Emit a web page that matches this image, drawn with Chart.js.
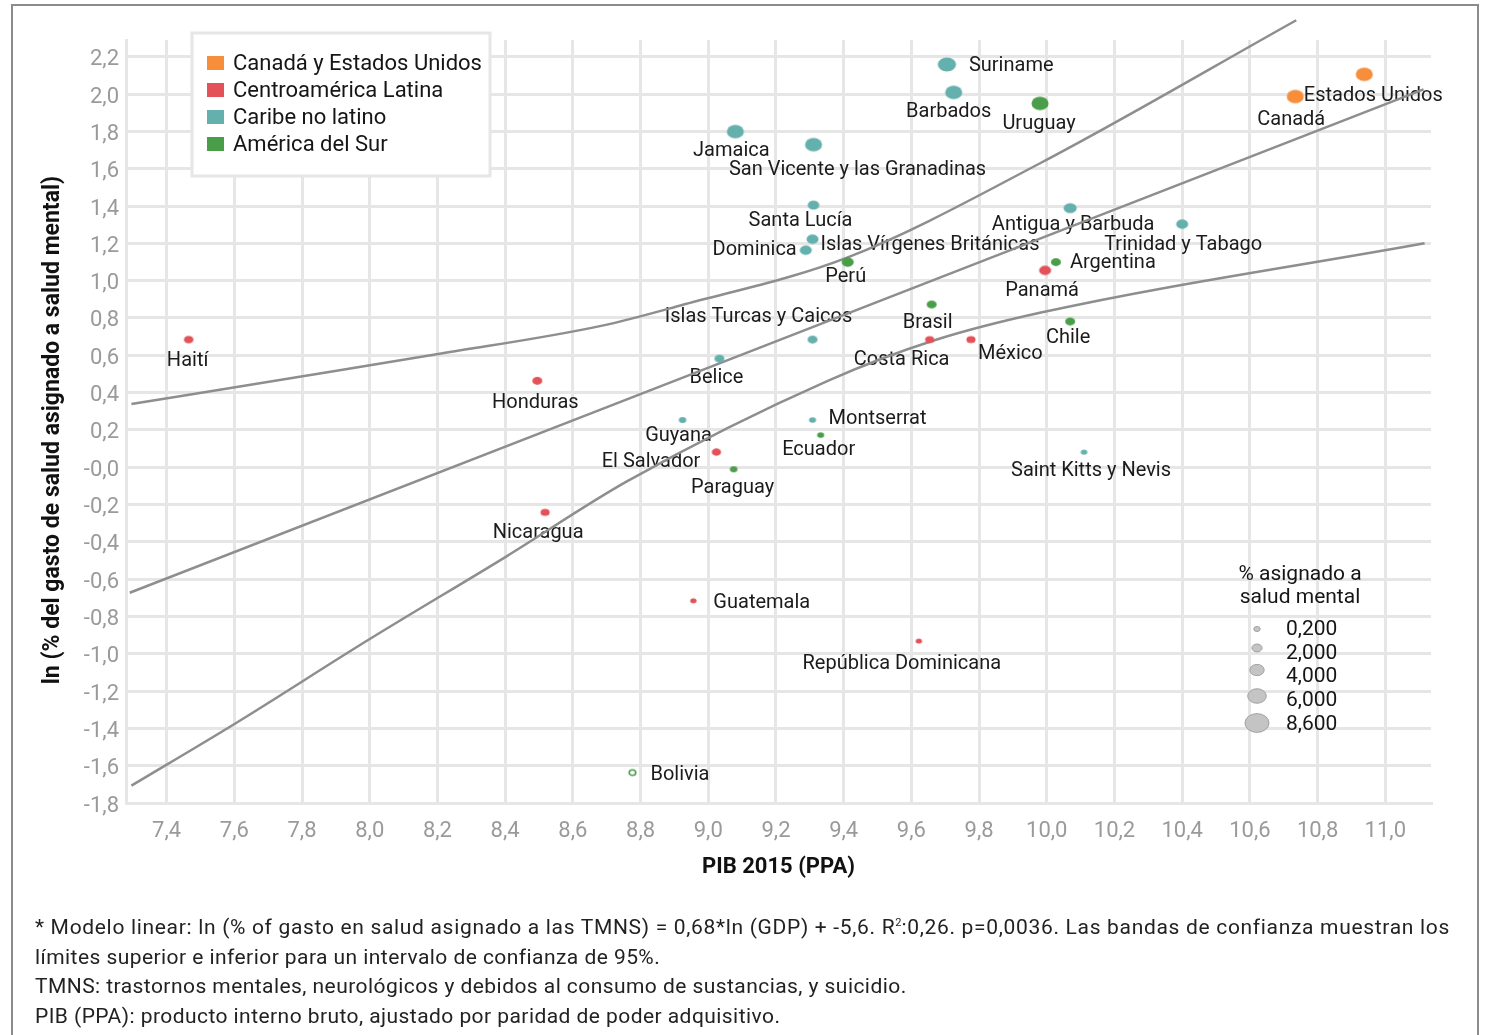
<!DOCTYPE html>
<html lang="es">
<head>
<meta charset="utf-8">
<title>PIB 2015 y gasto en salud mental</title>
<script src="https://cdn.jsdelivr.net/npm/chart.js@4.4.1/dist/chart.umd.min.js"></script>
<style>
  html, body { margin: 0; padding: 0; background: #fff; }
  #wrap { position: relative; width: 1488px; height: 1035px; overflow: hidden; font-family: Roboto, "Noto Sans", sans-serif; }
  #frame { position: absolute; left: 11px; top: 4px; width: 1468px; height: 1100px; border: 2px solid #8c8c8c; box-sizing: border-box; }
  #chart { position: absolute; left: 0; top: 0; }
  #note { position: absolute; left: 35px; top: 913px; font-size: 21px; line-height: 29.5px; color: #222; white-space: nowrap; }
  #note div { letter-spacing: 0.44px; }
  #note div.wide { letter-spacing: 0.68px; }
  #note sup { font-size: 11px; line-height: 0; letter-spacing: 0; }
</style>
</head>
<body>
<div id="wrap">
  <div id="frame"></div>
  <canvas id="chart" width="1488" height="1035"></canvas>
  <div id="note">
    <div class="wide">* Modelo linear: ln (% of gasto en salud asignado a las TMNS) = 0,68*ln (GDP) + -5,6. R<sup>2</sup>:0,26. p=0,0036. Las bandas de confianza muestran los</div>
    <div>límites superior e inferior para un intervalo de confianza de 95%.</div>
    <div>TMNS: trastornos mentales, neurológicos y debidos al consumo de sustancias, y suicidio.</div>
    <div>PIB (PPA): producto interno bruto, ajustado por paridad de poder adquisitivo.</div>
  </div>
</div>
<script>
// data
const regions = ['Canadá y Estados Unidos', 'Centroamérica Latina', 'Caribe no latino', 'América del Sur'];
const regionColors = ['#F68E3B', '#E35258', '#64B0AC', '#4A9D49'];

const countries = ['Haití', 'Honduras', 'Nicaragua', 'Guatemala', 'Bolivia', 'República Dominicana', 'Guyana', 'El Salvador',
  'Paraguay', 'Montserrat', 'Ecuador', 'Saint Kitts y Nevis', 'Belice', 'Islas Turcas y Caicos', 'Costa Rica', 'México',
  'Brasil', 'Chile', 'Panamá', 'Argentina', 'Perú', 'Dominica', 'Islas Vírgenes Británicas', 'Santa Lucía',
  'Antigua y Barbuda', 'Trinidad y Tabago', 'Jamaica', 'San Vicente y las Granadinas', 'Suriname', 'Barbados', 'Uruguay',
  'Canadá', 'Estados Unidos'];
const region = [1, 1, 1, 1, 3, 1, 2, 1, 3, 2, 3, 2, 2, 2, 1, 1, 3, 3, 1, 3, 3, 2, 2, 2, 2, 2, 2, 2, 2, 2, 3, 0, 0];
const gdp = [7.465, 8.495, 8.518, 8.956, 8.776, 9.622, 8.924, 9.024, 9.075, 9.308, 9.332, 10.11, 9.033, 9.308, 9.654, 9.776,
  9.66, 10.069, 9.995, 10.027, 9.412, 9.288, 9.308, 9.311, 10.069, 10.40, 9.08, 9.311, 9.705, 9.725, 9.98, 10.734, 10.938];
const lnShare = [0.684, 0.463, -0.242, -0.716, -1.637, -0.932, 0.253, 0.081, -0.011, 0.253, 0.172, 0.081, 0.582, 0.684, 0.684,
  0.684, 0.872, 0.781, 1.055, 1.099, 1.099, 1.163, 1.222, 1.405, 1.389, 1.303, 1.799, 1.729, 2.159, 2.009, 1.950, 1.987, 2.106];
const share = [1.7, 1.9, 1.5, 0.2, 0.2, 0.2, 0.7, 1.6, 0.8, 0.5, 0.5, 0.3, 1.9, 1.9, 1.5, 1.5, 1.9, 1.9, 2.9, 1.9, 2.9, 2.9,
  2.9, 2.7, 3.4, 2.9, 5.3, 5.3, 5.8, 5.3, 5.3, 5.3, 5.3];
const openMarker = ['Bolivia'];

// regression line and 95% band
const fitX = [7.291, 11.113];
const fitY = [-0.673, 2.025];
const upperX = [7.296, 7.793, 8.211, 8.687, 8.918, 9.412, 9.983, 10.737];
const upperY = [0.339, 0.485, 0.609, 0.759, 0.867, 1.125, 1.632, 2.396];
const lowerX = [7.296, 7.598, 8.0, 8.403, 8.761, 9.353, 9.666, 9.983, 11.116];
const lowerY = [-1.707, -1.379, -0.921, -0.479, -0.075, 0.463, 0.679, 0.829, 1.201];

const xTicks = [7.4, 7.6, 7.8, 8.0, 8.2, 8.4, 8.6, 8.8, 9.0, 9.2, 9.4, 9.6, 9.8, 10.0, 10.2, 10.4, 10.6, 10.8, 11.0];
const yTicks = [-1.8, -1.6, -1.4, -1.2, -1.0, -0.8, -0.6, -0.4, -0.2, 0, 0.2, 0.4, 0.6, 0.8, 1.0, 1.2, 1.4, 1.6, 1.8, 2.0, 2.2];
const sizeLegend = [0.2, 2, 4, 6, 8.6];
const sizeLegendLabels = ['0,200', '2,000', '4,000', '6,000', '8,600'];

// label placement: [dx, dy, align]
const labelPos = {
  'Haití': [-1, 19, 'center'], 'Honduras': [-2, 20, 'center'], 'Nicaragua': [-7, 19, 'center'],
  'Guatemala': [20, 0, 'left'], 'Bolivia': [18, 0, 'left'], 'República Dominicana': [-17, 21, 'center'],
  'Guyana': [-4, 14, 'center'], 'El Salvador': [-16, 8, 'right'], 'Paraguay': [-1, 17, 'center'],
  'Montserrat': [16, -3, 'left'], 'Ecuador': [-2, 13, 'center'], 'Saint Kitts y Nevis': [7, 17, 'center'],
  'Belice': [-3, 17, 'center'], 'Islas Turcas y Caicos': [-54, -25, 'center'], 'Costa Rica': [-28, 18, 'center'],
  'México': [7, 12, 'left'], 'Brasil': [-4, 16, 'center'], 'Chile': [-2, 14, 'center'], 'Panamá': [-3, 19, 'center'],
  'Argentina': [14, -1, 'left'], 'Perú': [-2, 13, 'center'], 'Dominica': [-9, -2, 'right'],
  'Islas Vírgenes Británicas': [8, 4, 'left'], 'Santa Lucía': [-13, 14, 'center'], 'Antigua y Barbuda': [3, 15, 'center'],
  'Trinidad y Tabago': [1, 19, 'center'], 'Jamaica': [-4, 17, 'center'], 'San Vicente y las Granadinas': [44, 23, 'center'],
  'Suriname': [22, 0, 'left'], 'Barbados': [-5, 18, 'center'], 'Uruguay': [-1, 19, 'center'], 'Canadá': [-4, 21, 'center'],
  'Estados Unidos': [9, 20, 'center']
};

const FONT = 'Roboto, "Noto Sans", sans-serif';
const rxOf = v => 3 + 1.05 * v;
const ryOf = v => 0.78 * rxOf(v);
const fmt = v => (Math.abs(v) < 1e-9 ? '-0,0' : v.toFixed(1).replace('.', ','));

function ellipseImage(rx, ry, color, open) {
  const c = document.createElement('canvas');
  c.width = Math.ceil(rx * 2 + 4);
  c.height = Math.ceil(ry * 2 + 4);
  const g = c.getContext('2d');
  g.beginPath();
  g.ellipse(c.width / 2, c.height / 2, rx, ry, 0, 0, Math.PI * 2);
  if (open) {
    g.fillStyle = '#fff';
    g.fill();
    g.lineWidth = 1.6;
    g.strokeStyle = color;
    g.stroke();
  } else {
    g.fillStyle = color;
    g.fill();
  }
  return c;
}

const pointSets = regions.map((name, r) => {
  const idx = countries.map((c, i) => i).filter(i => region[i] === r);
  return {
    label: name,
    data: idx.map(i => ({ x: gdp[i], y: lnShare[i], name: countries[i] })),
    backgroundColor: regionColors[r],
    pointStyle: idx.map(i => {
      const open = openMarker.includes(countries[i]);
      return ellipseImage(open ? 3.3 : rxOf(share[i]), open ? 2.8 : ryOf(share[i]), regionColors[r], open);
    }),
    pointRadius: idx.map(i => rxOf(share[i])),
    pointHoverRadius: idx.map(i => rxOf(share[i])),
    order: 0
  };
});

const lineSet = (xs, ys) => ({
  data: xs.map((x, i) => ({ x, y: ys[i] })),
  showLine: true,
  borderColor: '#8e8e8e',
  borderWidth: 2.5,
  pointRadius: 0,
  cubicInterpolationMode: 'monotone',
  clip: false,
  order: 1
});

const labelsPlugin = {
  id: 'countryLabels',
  beforeDatasetsDraw(chart) {
    const ctx = chart.ctx;
    ctx.save();
    ctx.font = '20px ' + FONT;
    ctx.fillStyle = '#1b1b1b';
    ctx.textBaseline = 'middle';
    pointSets.forEach((ds, di) => {
      chart.getDatasetMeta(di).data.forEach((el, j) => {
        const name = ds.data[j].name;
        const p = labelPos[name] || [0, 18, 'center'];
        ctx.textAlign = p[2];
        ctx.fillText(name, el.x + p[0], el.y + p[1] + 2);
      });
    });
    ctx.restore();
  },
  afterDraw(chart) {
    const ctx = chart.ctx;
    ctx.save();
    // region legend
    ctx.fillStyle = '#fff';
    ctx.fillRect(192, 33, 298, 143);
    ctx.strokeStyle = '#e6e6e6';
    ctx.lineWidth = 3;
    ctx.strokeRect(192, 33, 298, 143);
    ctx.font = '22px ' + FONT;
    ctx.textBaseline = 'middle';
    ctx.textAlign = 'left';
    regions.forEach((name, i) => {
      const y = 63 + i * 27;
      ctx.fillStyle = regionColors[i];
      ctx.fillRect(207, y - 7, 17, 14);
      ctx.fillStyle = '#151515';
      ctx.fillText(name, 233, y + 1);
    });
    // size legend
    ctx.fillStyle = '#151515';
    ctx.font = '21px ' + FONT;
    ctx.textAlign = 'center';
    ctx.fillText('% asignado a', 1300, 575);
    ctx.fillText('salud mental', 1300, 598);
    const ys = [629, 648, 670, 696, 723];
    const ty = [630, 654, 677, 701, 725];
    sizeLegend.forEach((v, i) => {
      ctx.beginPath();
      ctx.ellipse(1257, ys[i], rxOf(v), ryOf(v), 0, 0, Math.PI * 2);
      ctx.fillStyle = '#c4c4c4';
      ctx.fill();
      ctx.lineWidth = 1;
      ctx.strokeStyle = '#a2a2a2';
      ctx.stroke();
      ctx.fillStyle = '#151515';
      ctx.textAlign = 'left';
      ctx.fillText(sizeLegendLabels[i], 1286, ty[i]);
    });
    ctx.restore();
  }
};

const gridOpts = { color: '#e6e6e6', lineWidth: 3, drawTicks: false };
const borderOpts = { display: true, color: '#e6e6e6', width: 3 };
const tickFont = { family: FONT, size: 22 };

new Chart(document.getElementById('chart'), {
  type: 'scatter',
  data: {
    datasets: [...pointSets, lineSet(upperX, upperY), lineSet(fitX, fitY), lineSet(lowerX, lowerY)]
  },
  options: {
    responsive: false,
    animation: false,
    devicePixelRatio: 1,
    layout: { padding: { left: 14, right: 57, top: 40, bottom: 144 } },
    plugins: { legend: { display: false }, tooltip: { enabled: false } },
    scales: {
      x: {
        type: 'linear', min: 7.28, max: 11.135,
        afterBuildTicks: s => { s.ticks = xTicks.map(v => ({ value: v })); },
        afterFit: s => { s.height = 88; },
        grid: gridOpts, border: borderOpts,
        ticks: { color: '#9a9a9a', font: tickFont, padding: 15, callback: v => fmt(v) },
        title: { display: true, text: 'PIB 2015 (PPA)', color: '#111', font: { family: FONT, size: 22, weight: 'bold' }, padding: { top: 0, bottom: 10 } }
      },
      y: {
        type: 'linear', min: -1.8, max: 2.29,
        afterBuildTicks: s => { s.ticks = yTicks.map(v => ({ value: v })); },
        afterFit: s => { s.width = 112; },
        grid: gridOpts, border: borderOpts,
        ticks: { color: '#9a9a9a', font: tickFont, padding: 7, labelOffset: 3, callback: v => fmt(v) },
        title: { display: true, text: 'ln (% del gasto de salud asignado a salud mental)   ', color: '#111', font: { family: FONT, size: 23, weight: 'bold' }, padding: { top: 25, bottom: 0 } }
      }
    }
  },
  plugins: [labelsPlugin]
});
</script>
</body>
</html>
